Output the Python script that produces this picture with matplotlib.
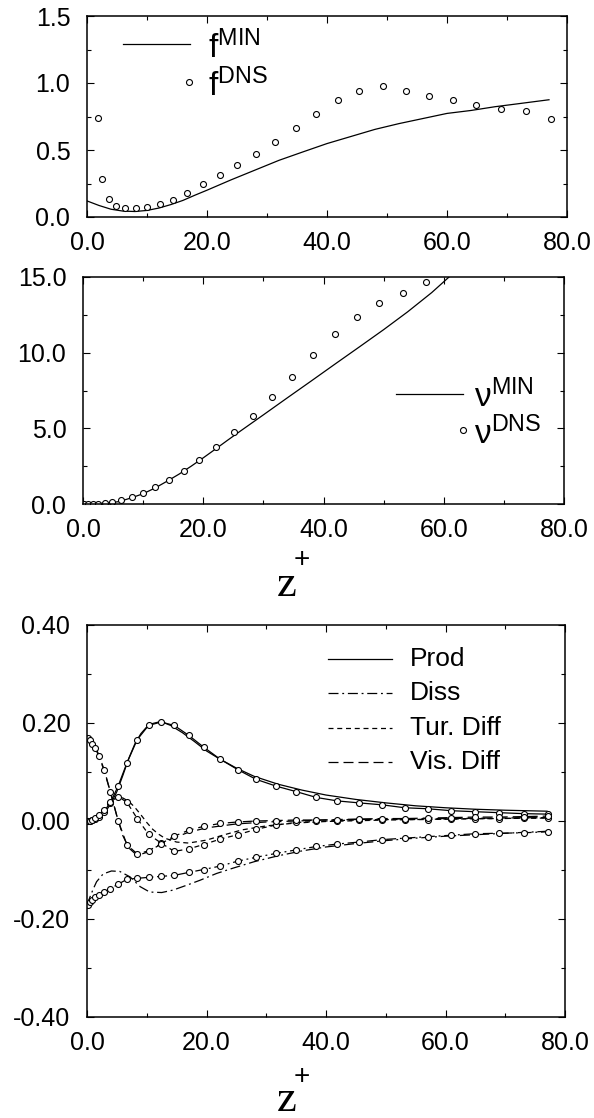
import matplotlib
matplotlib.use('Agg')
import matplotlib.pyplot as plt
from matplotlib.ticker import MultipleLocator, FormatStrFormatter

plt.rcParams['font.family'] = ['Liberation Sans', 'DejaVu Sans']
plt.rcParams['mathtext.fontset'] = 'custom'
plt.rcParams['mathtext.rm'] = 'Liberation Sans'
plt.rcParams['mathtext.it'] = 'Liberation Sans:italic'
plt.rcParams['mathtext.bf'] = 'Liberation Sans:bold'

# ---------------- top panel: f ----------------
f_min_z = [0, 2, 4, 6, 8, 10, 12, 14, 16, 18, 20, 24, 28, 32, 36, 40, 44, 48, 52, 56, 60, 64, 68, 72, 77]
f_min = [0.12, 0.086, 0.058, 0.044, 0.041, 0.049, 0.067, 0.093, 0.124, 0.163, 0.2, 0.277, 0.35, 0.423,
         0.486, 0.548, 0.601, 0.654, 0.697, 0.735, 0.773, 0.795, 0.823, 0.846, 0.875]
f_dns_z = [1.8, 2.5, 3.6, 4.9, 6.4, 8.1, 10.0, 12.1, 14.4, 16.7, 19.4, 22.1, 25.0, 28.2, 31.4, 34.8, 38.2,
           41.8, 45.4, 49.3, 53.1, 57.0, 61.0, 64.9, 69.0, 73.1, 77.3]
f_dns = [0.741, 0.282, 0.133, 0.083, 0.065, 0.066, 0.077, 0.099, 0.13, 0.182, 0.244, 0.316, 0.388, 0.47,
         0.562, 0.665, 0.767, 0.87, 0.942, 0.975, 0.938, 0.9, 0.873, 0.836, 0.809, 0.792, 0.735]

# ---------------- middle panel: nu ----------------
nu_min_z = [0, 4, 6, 8, 10, 12, 14, 16, 18, 20, 22, 24, 26, 28, 30, 34, 38, 42, 46, 50, 54, 58, 62, 66]
nu_min = [0, 0.05, 0.16, 0.4, 0.68, 1.06, 1.51, 1.98, 2.5, 3.05, 3.62, 4.2, 4.77, 5.33, 5.89, 7.02, 8.14,
          9.27, 10.39, 11.52, 12.7, 13.97, 15.4, 16.8]
nu_dns_z = [0.2, 0.8, 1.6, 2.5, 3.6, 4.9, 6.4, 8.2, 10.0, 12.0, 14.3, 16.75, 19.3, 22.2, 25.1, 28.2, 31.4,
            34.8, 38.3, 41.9, 45.5, 49.3, 53.3, 57.1]
nu_dns = [0.0, 0.0, 0.01, 0.03, 0.04, 0.12, 0.24, 0.45, 0.73, 1.12, 1.6, 2.2, 2.92, 3.76, 4.74, 5.8, 7.04,
          8.4, 9.85, 11.23, 12.36, 13.28, 13.94, 14.67]

# ---------------- bottom panel: budget ----------------
bud_dns_z = [0.2, 0.5, 0.9, 1.4, 2.0, 2.8, 3.9, 5.2, 6.7, 8.4, 10.3, 12.4, 14.6, 17.0, 19.5, 22.3, 25.2,
             28.3, 31.7, 35.0, 38.4, 41.9, 45.5, 49.4, 53.2, 57.0, 61.0, 64.9, 69.0, 73.1, 77.2]
prod_dns = [0.0, 0.0, 0.002, 0.004, 0.008, 0.019, 0.037, 0.071, 0.119, 0.166, 0.195, 0.202, 0.195, 0.175,
            0.151, 0.126, 0.105, 0.085, 0.071, 0.06, 0.048, 0.041, 0.037, 0.033, 0.027, 0.025, 0.021,
            0.019, 0.017, 0.015, 0.014]
diss_dns = [-0.172, -0.166, -0.161, -0.155, -0.15, -0.145, -0.138, -0.129, -0.119, -0.117, -0.115, -0.113,
            -0.111, -0.105, -0.099, -0.092, -0.082, -0.074, -0.066, -0.059, -0.052, -0.047, -0.043,
            -0.038, -0.035, -0.032, -0.029, -0.026, -0.025, -0.024, -0.022]
turb_dns = [0.0, 0.001, 0.003, 0.006, 0.012, 0.022, 0.038, 0.05, 0.038, 0.005, -0.027, -0.045, -0.062,
            -0.057, -0.048, -0.037, -0.028, -0.017, -0.008, -0.003, -0.001, 0.001, 0.002, 0.003, 0.003,
            0.003, 0.004, 0.005, 0.005, 0.006, 0.007]
visc_dns = [0.17, 0.166, 0.158, 0.148, 0.132, 0.105, 0.06, 0.001, -0.049, -0.067, -0.061, -0.046, -0.031,
            -0.019, -0.011, -0.005, -0.002, 0.0, 0.001, 0.002, 0.002, 0.003, 0.004, 0.005, 0.005, 0.006,
            0.007, 0.008, 0.008, 0.009, 0.01]

prod_mod_z = [0, 1, 2, 3, 4, 5, 6, 7, 8, 9, 10, 11, 12, 13, 14, 16, 18, 20, 22, 25, 28, 32, 36, 40, 45, 50,
              55, 60, 65, 70, 77]
prod_mod = [0, 0.002, 0.008, 0.018, 0.035, 0.06, 0.093, 0.128, 0.157, 0.178, 0.192, 0.199, 0.202, 0.2,
            0.195, 0.18, 0.162, 0.143, 0.128, 0.108, 0.091, 0.075, 0.063, 0.053, 0.044, 0.037, 0.031,
            0.027, 0.024, 0.022, 0.02]
diss_mod_z = [0, 0.5, 1, 1.6, 2.7, 4.1, 5.5, 7.2, 8.9, 10.5, 12.5, 14.4, 16.7, 18.9, 21.7, 24.5, 28, 32,
              36, 40, 45, 50, 55, 60, 65, 70, 77]
diss_mod = [-0.172, -0.155, -0.14, -0.124, -0.108, -0.102, -0.103, -0.114, -0.134, -0.145, -0.146, -0.141,
            -0.131, -0.121, -0.107, -0.096, -0.083, -0.071, -0.061, -0.053, -0.046, -0.04, -0.035,
            -0.031, -0.028, -0.025, -0.021]
turb_mod_z = [0, 1, 2, 3, 4, 5, 6, 7, 8, 9, 10, 11, 12, 13, 15, 17, 20, 23, 26, 30, 35, 40, 50, 60, 77]
turb_mod = [0, 0.004, 0.013, 0.026, 0.04, 0.048, 0.047, 0.04, 0.028, 0.013, -0.003, -0.017, -0.027,
            -0.035, -0.043, -0.045, -0.039, -0.028, -0.018, -0.01, -0.004, -0.001, 0.002, 0.004, 0.006]
visc_mod_z = [0, 1, 2, 3, 4, 5, 6, 7, 8, 9, 10, 12, 14, 17, 20, 25, 30, 40, 50, 60, 77]
visc_mod = [0.17, 0.16, 0.135, 0.1, 0.055, 0.01, -0.03, -0.055, -0.066, -0.068, -0.064, -0.05, -0.037,
            -0.023, -0.014, -0.006, -0.002, 0.002, 0.004, 0.005, 0.007]

x_ticks = [0, 20, 40, 60, 80]
budget_labels = ['Prod', 'Diss', 'Tur. Diff', 'Vis. Diff']

W, H = 594, 1118
fig = plt.figure(figsize=(W / 100, H / 100), dpi=100)


def px_axes(l, t, r, b):
    return fig.add_axes([l / W, 1 - b / H, (r - l) / W, (b - t) / H])


LW = 0.9
TICK_FS = 18
MS = 4.3


def style(ax, ymaj, ymin, yfmt):
    ax.set_xlim(0, 80)
    ax.xaxis.set_major_locator(MultipleLocator(20))
    ax.xaxis.set_minor_locator(MultipleLocator(10))
    ax.yaxis.set_major_locator(MultipleLocator(ymaj))
    ax.yaxis.set_minor_locator(MultipleLocator(ymin))
    ax.xaxis.set_major_formatter(FormatStrFormatter('%.1f'))
    ax.yaxis.set_major_formatter(FormatStrFormatter(yfmt))
    ax.tick_params(which='both', direction='in', top=True, right=True, width=0.8)
    ax.tick_params(which='major', length=5, labelsize=TICK_FS)
    ax.tick_params(which='minor', length=3)
    ax.tick_params(axis='x', which='major', pad=10)
    ax.tick_params(axis='y', which='major', pad=12)
    for s in ax.spines.values():
        s.set_linewidth(1.1)


# ---- top
ax1 = px_axes(87, 16, 567, 217)
ax1.plot(f_min_z, f_min, color='black', lw=LW)
ax1.plot(f_dns_z, f_dns, 'o', mfc='white', mec='black', ms=MS, mew=0.8)
ax1.set_ylim(0, 1.5)
style(ax1, 0.5, 0.25, '%.1f')
ax1.plot([0.075, 0.215], [0.862, 0.862], color='black', lw=LW, transform=ax1.transAxes)
ax1.plot([0.213], [0.672], 'o', mfc='white', mec='black', ms=MS, mew=0.8, transform=ax1.transAxes)
ax1.text(0.252, 0.84, r'$\mathregular{f^{MIN}}$', transform=ax1.transAxes, fontsize=24, va='center')
ax1.text(0.252, 0.65, r'$\mathregular{f^{DNS}}$', transform=ax1.transAxes, fontsize=24, va='center')

# ---- middle
ax2 = px_axes(83, 277, 564, 504)
ax2.plot(nu_min_z, nu_min, color='black', lw=LW)
ax2.plot(nu_dns_z, nu_dns, 'o', mfc='white', mec='black', ms=MS, mew=0.8)
ax2.set_ylim(0, 15)
style(ax2, 5, 2.5, '%.1f')
ax2.plot([0.651, 0.79], [0.485, 0.485], color='black', lw=LW, transform=ax2.transAxes)
ax2.plot([0.79], [0.326], 'o', mfc='white', mec='black', ms=MS, mew=0.8, transform=ax2.transAxes)
ax2.text(0.812, 0.47, r'$\mathregular{\nu^{MIN}}$', transform=ax2.transAxes, fontsize=24, va='center')
ax2.text(0.812, 0.31, r'$\mathregular{\nu^{DNS}}$', transform=ax2.transAxes, fontsize=24, va='center')

# ---- bottom
ax3 = px_axes(87, 625, 565, 1017)
ls_list = ['-', (0, (8, 3, 1.5, 3)), (0, (4, 3)), (0, (8, 4))]
mods = [(prod_mod_z, prod_mod), (diss_mod_z, diss_mod), (turb_mod_z, turb_mod), (visc_mod_z, visc_mod)]
dnss = [prod_dns, diss_dns, turb_dns, visc_dns]
for (mz, mv), dv, ls in zip(mods, dnss, ls_list):
    ax3.plot(mz, mv, color='black', lw=LW, linestyle=ls)
    ax3.plot(bud_dns_z, dv, color='black', lw=LW, linestyle=ls, marker='o', mfc='white', mec='black',
             ms=MS, mew=0.8)
ax3.set_ylim(-0.4, 0.4)
style(ax3, 0.2, 0.1, '%.2f')
leg_y = [0.913, 0.827, 0.737, 0.651]
for lab, ls, yy in zip(budget_labels, ls_list, leg_y):
    ax3.plot([0.504, 0.638], [yy, yy], color='black', lw=LW, linestyle=ls, transform=ax3.transAxes)
    ax3.text(0.676, yy, lab, transform=ax3.transAxes, fontsize=19, va='center')

# axis labels z+
for zy, py in [(585, 560), (1100, 1077)]:
    fig.text(287 / W, 1 - zy / H, 'z', family='Liberation Serif', fontsize=32, ha='center', va='center')
    fig.text(302 / W, 1 - py / H, '+', family='Liberation Sans', fontsize=20, ha='center', va='center')

fig.savefig('out.png', dpi=100)
